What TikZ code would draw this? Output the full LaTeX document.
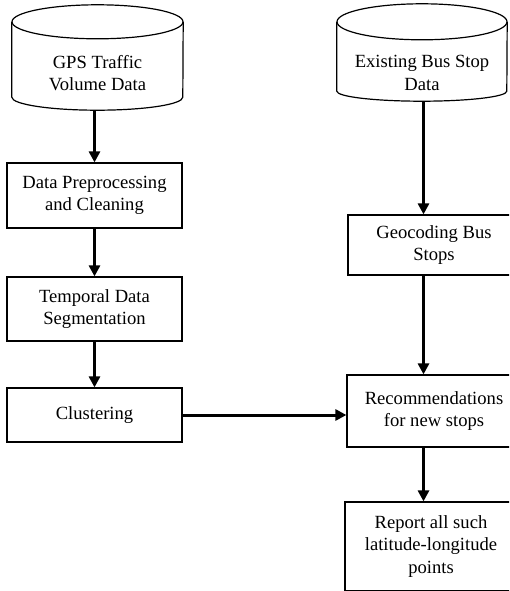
\documentclass[tikz,border=0pt]{standalone}
\usepackage{fontspec}
\setmainfont{Liberation Serif}
\usetikzlibrary{arrows.meta}
\newcommand\bodyfont{\fontsize{18.6}{22.5}\selectfont}
% Outline of a data drum around an (invisible) rectangular node:
% #1 node name, #2 horizontal radius, #3 top radius, #4 bottom radius
\newcommand\drumoutline[4]{%
  \draw[outline] ([yshift=-#3]#1.north) ellipse[x radius=#2, y radius=#3];
  \draw[outline] ([yshift=-#3]#1.north west) -- ([yshift=#4]#1.south west)
    arc[start angle=180, end angle=360, x radius=#2, y radius=#4]
    -- ([yshift=-#3]#1.north east);
}
\begin{document}
\begin{tikzpicture}[x=1pt, y=-1pt,
  outline/.style={draw=black, line width=1.2pt},
  stepbox/.style={outline, rectangle, inner sep=0pt, align=center, font=\bodyfont},
  drum/.style={rectangle, inner sep=0pt},
  drumtext/.style={align=center, font=\bodyfont, inner sep=0pt},
  flow/.style={line width=3pt, -{Triangle[length=11pt, width=11pt]}}]

\useasboundingbox (0,0) rectangle (509,591);
\clip (0,0) rectangle (509,591);
\fill[white] (0,0) rectangle (509,591);

% data sources
\node[drum, minimum width=171pt, minimum height=105pt] (gps) at (97.5,57.5) {};
\drumoutline{gps}{85.5pt}{17pt}{13pt}
\node[drumtext] (gpstext) at (97.5,73) {GPS Traffic\\Volume Data};

\node[drum, minimum width=170pt, minimum height=97pt] (bus) at (422,52.5) {};
\drumoutline{bus}{85pt}{18pt}{10pt}
\node[drumtext] (bustext) at (422,73) {Existing Bus Stop\\Data};

% left processing chain
\node[stepbox, minimum width=175pt, minimum height=65pt] (prep) at (94.5,195.5)
  {Data Preprocessing\\and Cleaning};
\node[stepbox, minimum width=175pt, minimum height=64pt] (seg) at (94.5,309)
  {Temporal Data\\Segmentation};
\node[stepbox, minimum width=175pt, minimum height=54pt] (clus) at (94.5,415)
  {Clustering};

% right processing chain
\coordinate (rcol) at (423.5,0);
\node[stepbox, minimum width=172pt, minimum height=60pt] (geo) at (434,245)
  {Geocoding Bus\\Stops};
\node[stepbox, minimum width=174pt, minimum height=72pt] (rec) at (434,411)
  {Recommendations\\for new stops};
\node[stepbox, minimum width=172pt, minimum height=89pt] (rep) at (431,546.5)
  {Report all such\\latitude-longitude\\points};

% connectors
\draw[flow] (gps.south -| prep.north) -- (prep.north);
\draw[flow] (prep.south) -- (seg.north);
\draw[flow] (seg.south) -- (clus.north);
\draw[flow] (clus.east) -- (clus.east -| rec.west);
\draw[flow] (bus.south -| rcol) -- (geo.north -| rcol);
\draw[flow] (geo.south -| rcol) -- (rec.north -| rcol);
\draw[flow] (rec.south -| rcol) -- (rep.north -| rcol);
\end{tikzpicture}
\end{document}
